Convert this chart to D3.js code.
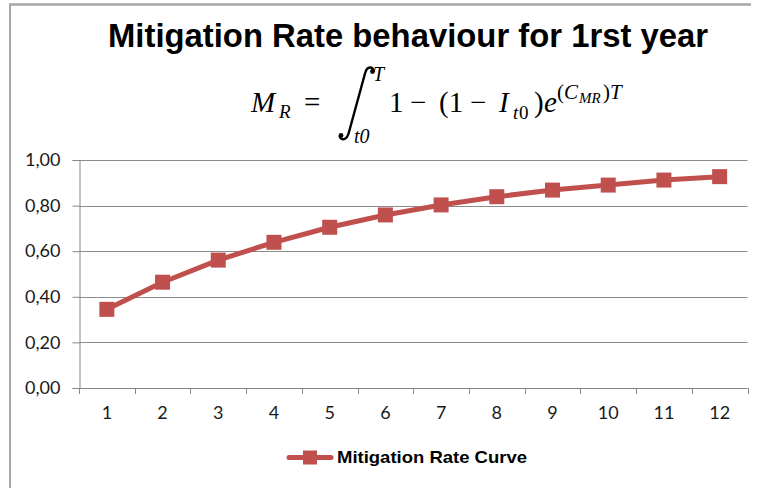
<!DOCTYPE html>
<html><head><meta charset="utf-8">
<script src="https://cdn.jsdelivr.net/npm/d3@7"></script>
<style>
html,body{margin:0;padding:0;background:#fff;}
svg{display:block;}
</style></head>
<body>
<svg id="chart" width="759" height="488"></svg>
<script>
const categories = ["1","2","3","4","5","6","7","8","9","10","11","12"];
const values = [0.345, 0.464, 0.561, 0.639, 0.705, 0.759, 0.803, 0.839, 0.868, 0.890, 0.912, 0.927];
const yTicks = [0, 0.2, 0.4, 0.6, 0.8, 1.0];
const seriesName = "Mitigation Rate Curve";
const titleText = "Mitigation Rate behaviour for 1rst year";

const svg = d3.select("#chart");
const color = "#c0504d";
const axisColor = "#868686";

// outer frame lines
svg.append("line").attr("x1",9).attr("x2",751).attr("y1",4.5).attr("y2",4.5)
  .attr("stroke","#a6a6a6").attr("stroke-width",2.5);
svg.append("line").attr("x1",10).attr("x2",10).attr("y1",4).attr("y2",488)
  .attr("stroke","#a6a6a6").attr("stroke-width",2);

const x = d3.scaleBand().domain(categories).range([79, 747.5]);
const y = d3.scaleLinear().domain([0,1]).range([388,160]);

// gridlines
svg.append("g").selectAll("line").data(yTicks.filter(d=>d>0)).join("line")
  .attr("x1",79).attr("x2",747.5)
  .attr("y1",d=>Math.round(y(d))+0.5).attr("y2",d=>Math.round(y(d))+0.5)
  .attr("stroke","#8c8c8c").attr("stroke-width",1);

// y axis
const yAxis = svg.append("g").attr("transform","translate(79.5,0)")
  .call(d3.axisLeft(y).tickValues(yTicks).tickSize(7).tickPadding(12)
    .tickFormat(d=>d3.format(".2f")(d).replace(".",",")));
// x axis
const xAxis = svg.append("g").attr("transform","translate(0,388.5)")
  .call(d3.axisBottom(x).tickSize(0).tickPadding(18));
// x ticks at band boundaries
svg.append("g").selectAll("line").data(categories.concat(["end"])).join("line")
  .attr("x1",(d,i)=>Math.round(79+i*x.step())+0.5)
  .attr("x2",(d,i)=>Math.round(79+i*x.step())+0.5)
  .attr("y1",388).attr("y2",394).attr("stroke",axisColor).attr("stroke-width",1);

[yAxis,xAxis].forEach(g=>{
  g.selectAll("path.domain").attr("stroke",axisColor).attr("stroke-width",1);
  g.selectAll(".tick line").attr("stroke",axisColor);
  g.selectAll("text").attr("font-family","Lato, 'Open Sans', sans-serif")
    .attr("font-size",18).attr("fill","#1a1a1a");
});
xAxis.select("path.domain").attr("d","M79,0H747.5");

// line
const cx = d => x(d) + x.bandwidth()/2;
svg.append("path").datum(values)
  .attr("d", d3.line().x((d,i)=>cx(categories[i])).y(d=>y(d)))
  .attr("fill","none").attr("stroke",color).attr("stroke-width",5)
  .attr("stroke-linejoin","round").attr("stroke-linecap","round");
const ms = 15;
svg.append("g").selectAll("rect").data(values).join("rect")
  .attr("x",(d,i)=>cx(categories[i])-ms/2).attr("y",d=>y(d)-ms/2)
  .attr("width",ms).attr("height",ms).attr("fill",color);

// title
svg.append("text").attr("x",108).attr("y",47)
  .attr("font-family","'Liberation Sans', Arial, sans-serif").attr("font-weight","bold")
  .attr("font-size",33).attr("textLength",600).attr("lengthAdjust","spacingAndGlyphs")
  .attr("fill","#000").text(titleText);

// formula
const f = svg.append("g").attr("font-family","'Liberation Serif', 'Times New Roman', serif").attr("fill","#000");
const base = 112;
function t(xp, yp, s, size, italic){
  f.append("text").attr("x",xp).attr("y",yp).attr("font-size",size)
    .attr("font-style",italic?"italic":"normal").text(s);
}
t(251, base, "M", 29, true);
t(279, base+6, "R", 19, true);
t(304, base, "=", 29, false);
// integral sign
f.append("path")
  .attr("d","M374,72 C373,66 367,65.5 365,73.5 L349,132 C347,140.5 341,141 339.5,136")
  .attr("fill","none").attr("stroke","#000").attr("stroke-width",2.4);
f.append("circle").attr("cx",372.5).attr("cy",71.5).attr("r",2.4);
f.append("circle").attr("cx",341).attr("cy",135.5).attr("r",2.4);
t(373, 81, "T", 20, true);
t(354, 143, "t0", 20, true);
t(389, base, "1", 29, false);
t(410, base, "\u2212", 29, false);
t(439, base, "(1", 29, false);
t(470, base, "\u2212", 29, false);
t(499, base, "I", 29, true);
t(513, base+7, "t", 19, true);
t(519, base+7, "0", 19, false);
t(534, base, ")", 29, false);
t(544, base, "e", 29, true);
t(557, 99, "(", 21, false);
t(564, 99, "C", 21, true);
t(579, 103, "MR", 15, true);
t(603, 99, ")", 21, false);
t(610, 99, "T", 21, true);

// legend
svg.append("line").attr("x1",289).attr("x2",331).attr("y1",457.5).attr("y2",457.5)
  .attr("stroke",color).attr("stroke-width",5).attr("stroke-linecap","round");
svg.append("rect").attr("x",303).attr("y",450.5).attr("width",14).attr("height",14).attr("fill",color);
svg.append("text").attr("x",337).attr("y",463)
  .attr("font-family","'Liberation Sans', Arial, sans-serif").attr("font-weight","bold")
  .attr("font-size",17).attr("textLength",190).attr("lengthAdjust","spacingAndGlyphs")
  .attr("fill","#000").text(seriesName);
</script>
</body></html>
